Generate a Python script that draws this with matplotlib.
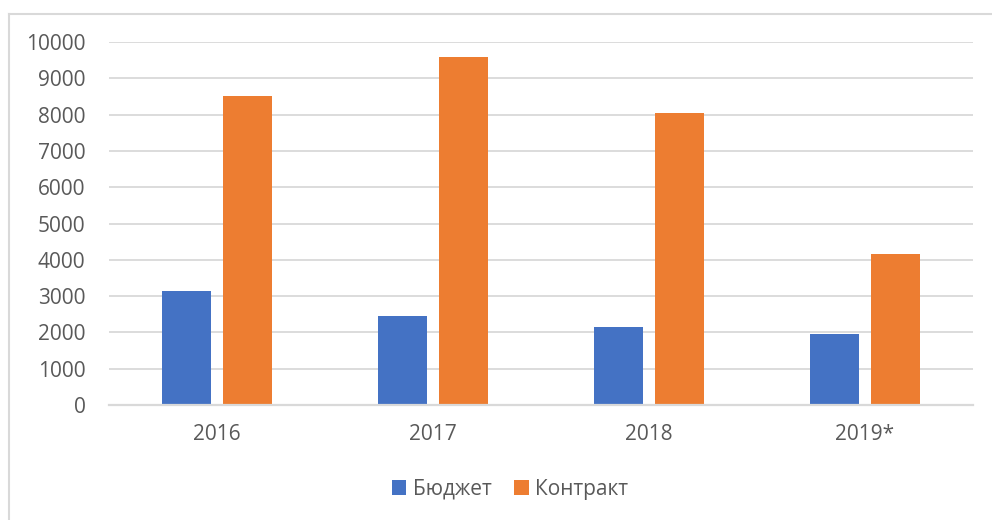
import matplotlib
matplotlib.use("Agg")
import matplotlib.pyplot as plt
import numpy as np
from matplotlib.lines import Line2D
from matplotlib.patches import Patch

plt.rcParams['font.family'] = ['Open Sans', 'DejaVu Sans']

# Data
years = ["2016", "2017", "2018", "2019*"]
budget = [3140, 2450, 2140, 1950]
contract = [8520, 9590, 8040, 4160]

blue = "#4472C4"
orange = "#ED7D31"
grid_color = "#D9D9D9"
text_color = "#595959"

fig = plt.figure(figsize=(9.92, 5.2), dpi=100)
ax = fig.add_axes([109 / 992, 1 - 405 / 520, (973 - 109) / 992, (405 - 42) / 520])

x = np.arange(len(years))
w = 0.223
gap = 0.06
ax.bar(x - (w + gap) / 2, budget, width=w, color=blue, zorder=3)
ax.bar(x + (w + gap) / 2, contract, width=w, color=orange, zorder=3)

ax.set_xlim(-0.5, len(years) - 0.5)
ax.set_ylim(0, 10000)
ax.set_yticks(np.arange(0, 10001, 1000))
ax.set_xticks(x)
ax.set_xticklabels(years)
ax.yaxis.grid(True, color=grid_color, linewidth=1.3, zorder=0)

for side in ["left", "right", "top"]:
    ax.spines[side].set_visible(False)
ax.spines["bottom"].set_color(grid_color)
ax.spines["bottom"].set_linewidth(1.6)
ax.spines["bottom"].set_zorder(4)

ax.tick_params(axis="both", length=0, labelsize=15, labelcolor=text_color)
ax.tick_params(axis="y", pad=17)
ax.tick_params(axis="x", pad=14)

# legend under the axes
handles = [Patch(facecolor=blue, label="Бюджет"),
           Patch(facecolor=orange, label="Контракт")]
leg = fig.legend(handles=handles, loc="center", bbox_to_anchor=(510 / 992, 1 - 489 / 520),
                 ncol=2, frameon=False, fontsize=15, handlelength=0.7, handleheight=0.7,
                 handletextpad=0.3, columnspacing=1.1)
for t in leg.get_texts():
    t.set_color(text_color)

# chart border
fig.add_artist(Line2D([8.5 / 992, 8.5 / 992], [0, 1 - 13.5 / 520], color=grid_color,
                      linewidth=1.5, transform=fig.transFigure))
fig.add_artist(Line2D([8.5 / 992, 1], [1 - 13.5 / 520, 1 - 13.5 / 520], color=grid_color,
                      linewidth=1.5, transform=fig.transFigure))

fig.savefig("out.png", dpi=100, facecolor="white")
